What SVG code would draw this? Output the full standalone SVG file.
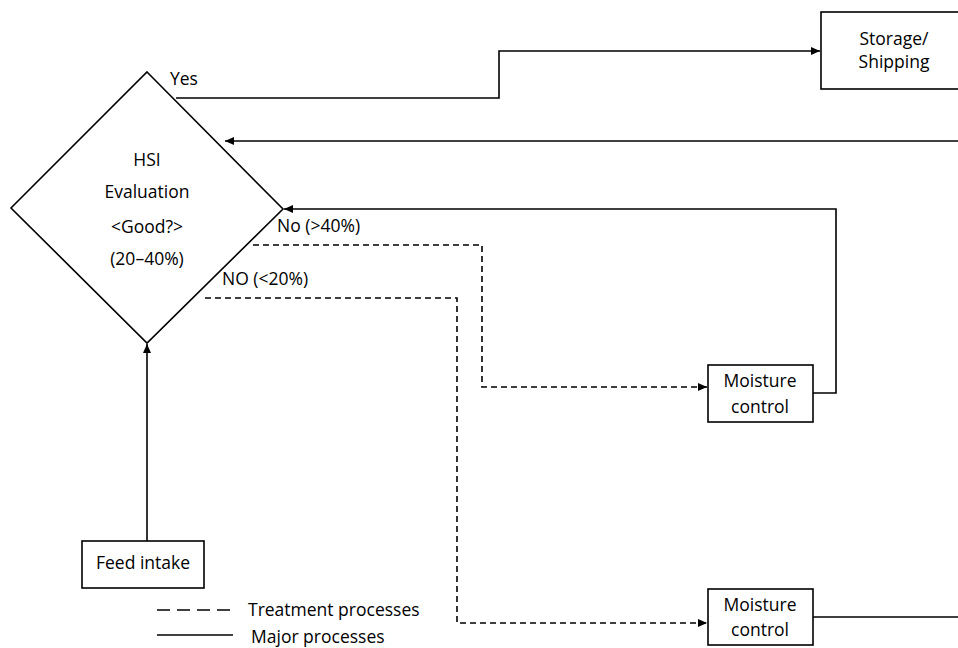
<svg xmlns="http://www.w3.org/2000/svg" width="958" height="648" viewBox="0 0 958 648">
<style>
text{font-family:"Open Sans","Noto Sans","Liberation Sans",sans-serif;font-size:17.5px;fill:#000}
.c{text-anchor:middle}
.box{fill:#fff;stroke:#000;stroke-width:1.6}
.ln{fill:none;stroke:#000;stroke-width:1.6}
.ds{fill:none;stroke:#000;stroke-width:1.6;stroke-dasharray:6,4}
.lg{stroke-dasharray:13,7}
</style>
<defs>
<marker id="ah" markerWidth="10" markerHeight="8" refX="9" refY="4" orient="auto" markerUnits="userSpaceOnUse">
<path d="M0,0 L9,4 L0,8 z" fill="#000"/>
</marker>
</defs>
<rect width="958" height="648" fill="#fff"/>
<g id="connectors">
<polyline class="ln" points="176,98 499,98 499,51 820,51" marker-end="url(#ah)"/>
<polyline class="ln" points="958,141 225,141" marker-end="url(#ah)"/>
<polyline class="ln" points="813,393 836,393 836,209 284,209" marker-end="url(#ah)"/>
<polyline class="ds" points="253,245 482,245 482,387 707,387" marker-end="url(#ah)"/>
<polyline class="ds" points="205,298 457,298 457,623 707,623" marker-end="url(#ah)"/>
<polyline class="ln" points="813,617 958,617"/>
<polyline class="ln" points="147,541 147,344" marker-end="url(#ah)"/>
</g>
<g id="hsi">
<polygon class="box" points="147,72 283,209 147,343 11,208"/>
<text class="c" x="147" y="166">HSI</text>
<text class="c" x="147" y="198">Evaluation</text>
<text class="c" x="147" y="233">&lt;Good?&gt;</text>
<text class="c" x="147" y="265">(20–40%)</text>
</g>
<g id="labels">
<text x="170" y="85">Yes</text>
<text x="277" y="232">No (&gt;40%)</text>
<text x="222" y="285">NO (&lt;20%)</text>
</g>
<g id="storage">
<rect class="box" x="821" y="12" width="150" height="77"/>
<text class="c" x="894" y="45">Storage/</text>
<text class="c" x="894" y="68">Shipping</text>
</g>
<g id="moisture1">
<rect class="box" x="708" y="365" width="105" height="57"/>
<text class="c" x="760" y="387">Moisture</text>
<text class="c" x="760" y="413">control</text>
</g>
<g id="moisture2">
<rect class="box" x="708" y="589" width="105" height="56"/>
<text class="c" x="760" y="611">Moisture</text>
<text class="c" x="760" y="636">control</text>
</g>
<g id="feed">
<rect class="box" x="82" y="541" width="122" height="47"/>
<text class="c" x="143" y="569">Feed intake</text>
</g>
<g id="legend">
<line class="ds lg" x1="157" y1="610" x2="233" y2="610"/>
<text x="248" y="616">Treatment processes</text>
<line class="ln" x1="157" y1="635" x2="233" y2="635"/>
<text x="251" y="643">Major processes</text>
</g>
</svg>
